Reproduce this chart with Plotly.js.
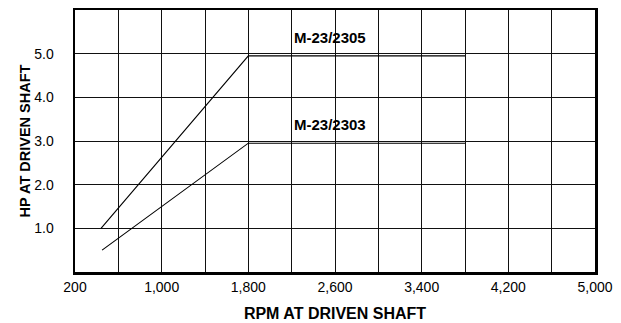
<!DOCTYPE html>
<html>
<head>
<meta charset="utf-8">
<script src="https://cdn.plot.ly/plotly-3.0.1.min.js"></script>
<style>html,body{margin:0;padding:0;background:#fff;}#chart{width:621px;height:323px;}</style>
</head>
<body>
<div id="chart"></div>
<script>
// Data
const rpm2305 = [440, 1800, 3800];
const hp2305  = [1.0, 4.95, 4.95];
const rpm2303 = [450, 1800, 3800];
const hp2303  = [0.5, 2.95, 2.95];
const seriesNames = ["M-23/2305", "M-23/2303"];
const labelX = [2550, 2550];
const labelY = [5.36, 3.37];
const xTickVals = [200, 1000, 1800, 2600, 3400, 4200, 5000];
const xTickText = ["200", "1,000", "1,800", "2,600", "3,400", "4,200", "5,000"];
const yTickVals = [1, 2, 3, 4, 5];
const yTickText = ["1.0", "2.0", "3.0", "4.0", "5.0"];

const FONT = "Liberation Sans, Arial, sans-serif";
const lineStyle = {color: "#000", width: 1.1};
const GRID = "#111";

const traces = [
  {x: rpm2305, y: hp2305, mode: "lines", line: lineStyle, name: seriesNames[0], hoverinfo: "skip"},
  {x: rpm2303, y: hp2303, mode: "lines", line: lineStyle, name: seriesNames[1], hoverinfo: "skip"}
];

const layout = {
  width: 621, height: 323,
  margin: {l: 75, r: 26, t: 10, b: 51},
  paper_bgcolor: "#fff", plot_bgcolor: "#fff",
  showlegend: false,
  font: {family: FONT, size: 14, color: "#000"},
  xaxis: {
    range: [200, 5000],
    tickmode: "array", tickvals: xTickVals, ticktext: xTickText,
    showgrid: false,
    minor: {dtick: 400, tick0: 200, showgrid: true, gridcolor: GRID, gridwidth: 1, ticks: ""},
    zeroline: false,
    showline: true, linecolor: "#000", linewidth: 2.5, mirror: true,
    ticks: "outside", ticklen: 1, tickcolor: "rgba(0,0,0,0)",
    tickfont: {family: FONT, size: 14, color: "#000"},
    title: {text: "<b>RPM AT DRIVEN SHAFT</b>", font: {family: FONT, size: 16, color: "#000"}, standoff: 14}
  },
  yaxis: {
    range: [0, 6],
    tickmode: "array", tickvals: yTickVals, ticktext: yTickText,
    showgrid: true, gridcolor: GRID, gridwidth: 1,
    zeroline: false,
    showline: true, linecolor: "#000", linewidth: 2.5, mirror: true,
    ticks: "outside", ticklen: 16, tickcolor: "rgba(0,0,0,0)",
    tickfont: {family: FONT, size: 14, color: "#000"},
    title: {text: "<b>HP AT DRIVEN SHAFT</b>", font: {family: FONT, size: 14.5, color: "#000"}, standoff: 0}
  },
  annotations: seriesNames.map((n, i) => ({
    x: labelX[i], y: labelY[i], xref: "x", yref: "y",
    text: "<b>" + n + "</b>", showarrow: false,
    font: {family: FONT, size: 15, color: "#000"}
  }))
};

Plotly.newPlot("chart", traces, layout, {displayModeBar: false, staticPlot: true});
</script>
</body>
</html>
